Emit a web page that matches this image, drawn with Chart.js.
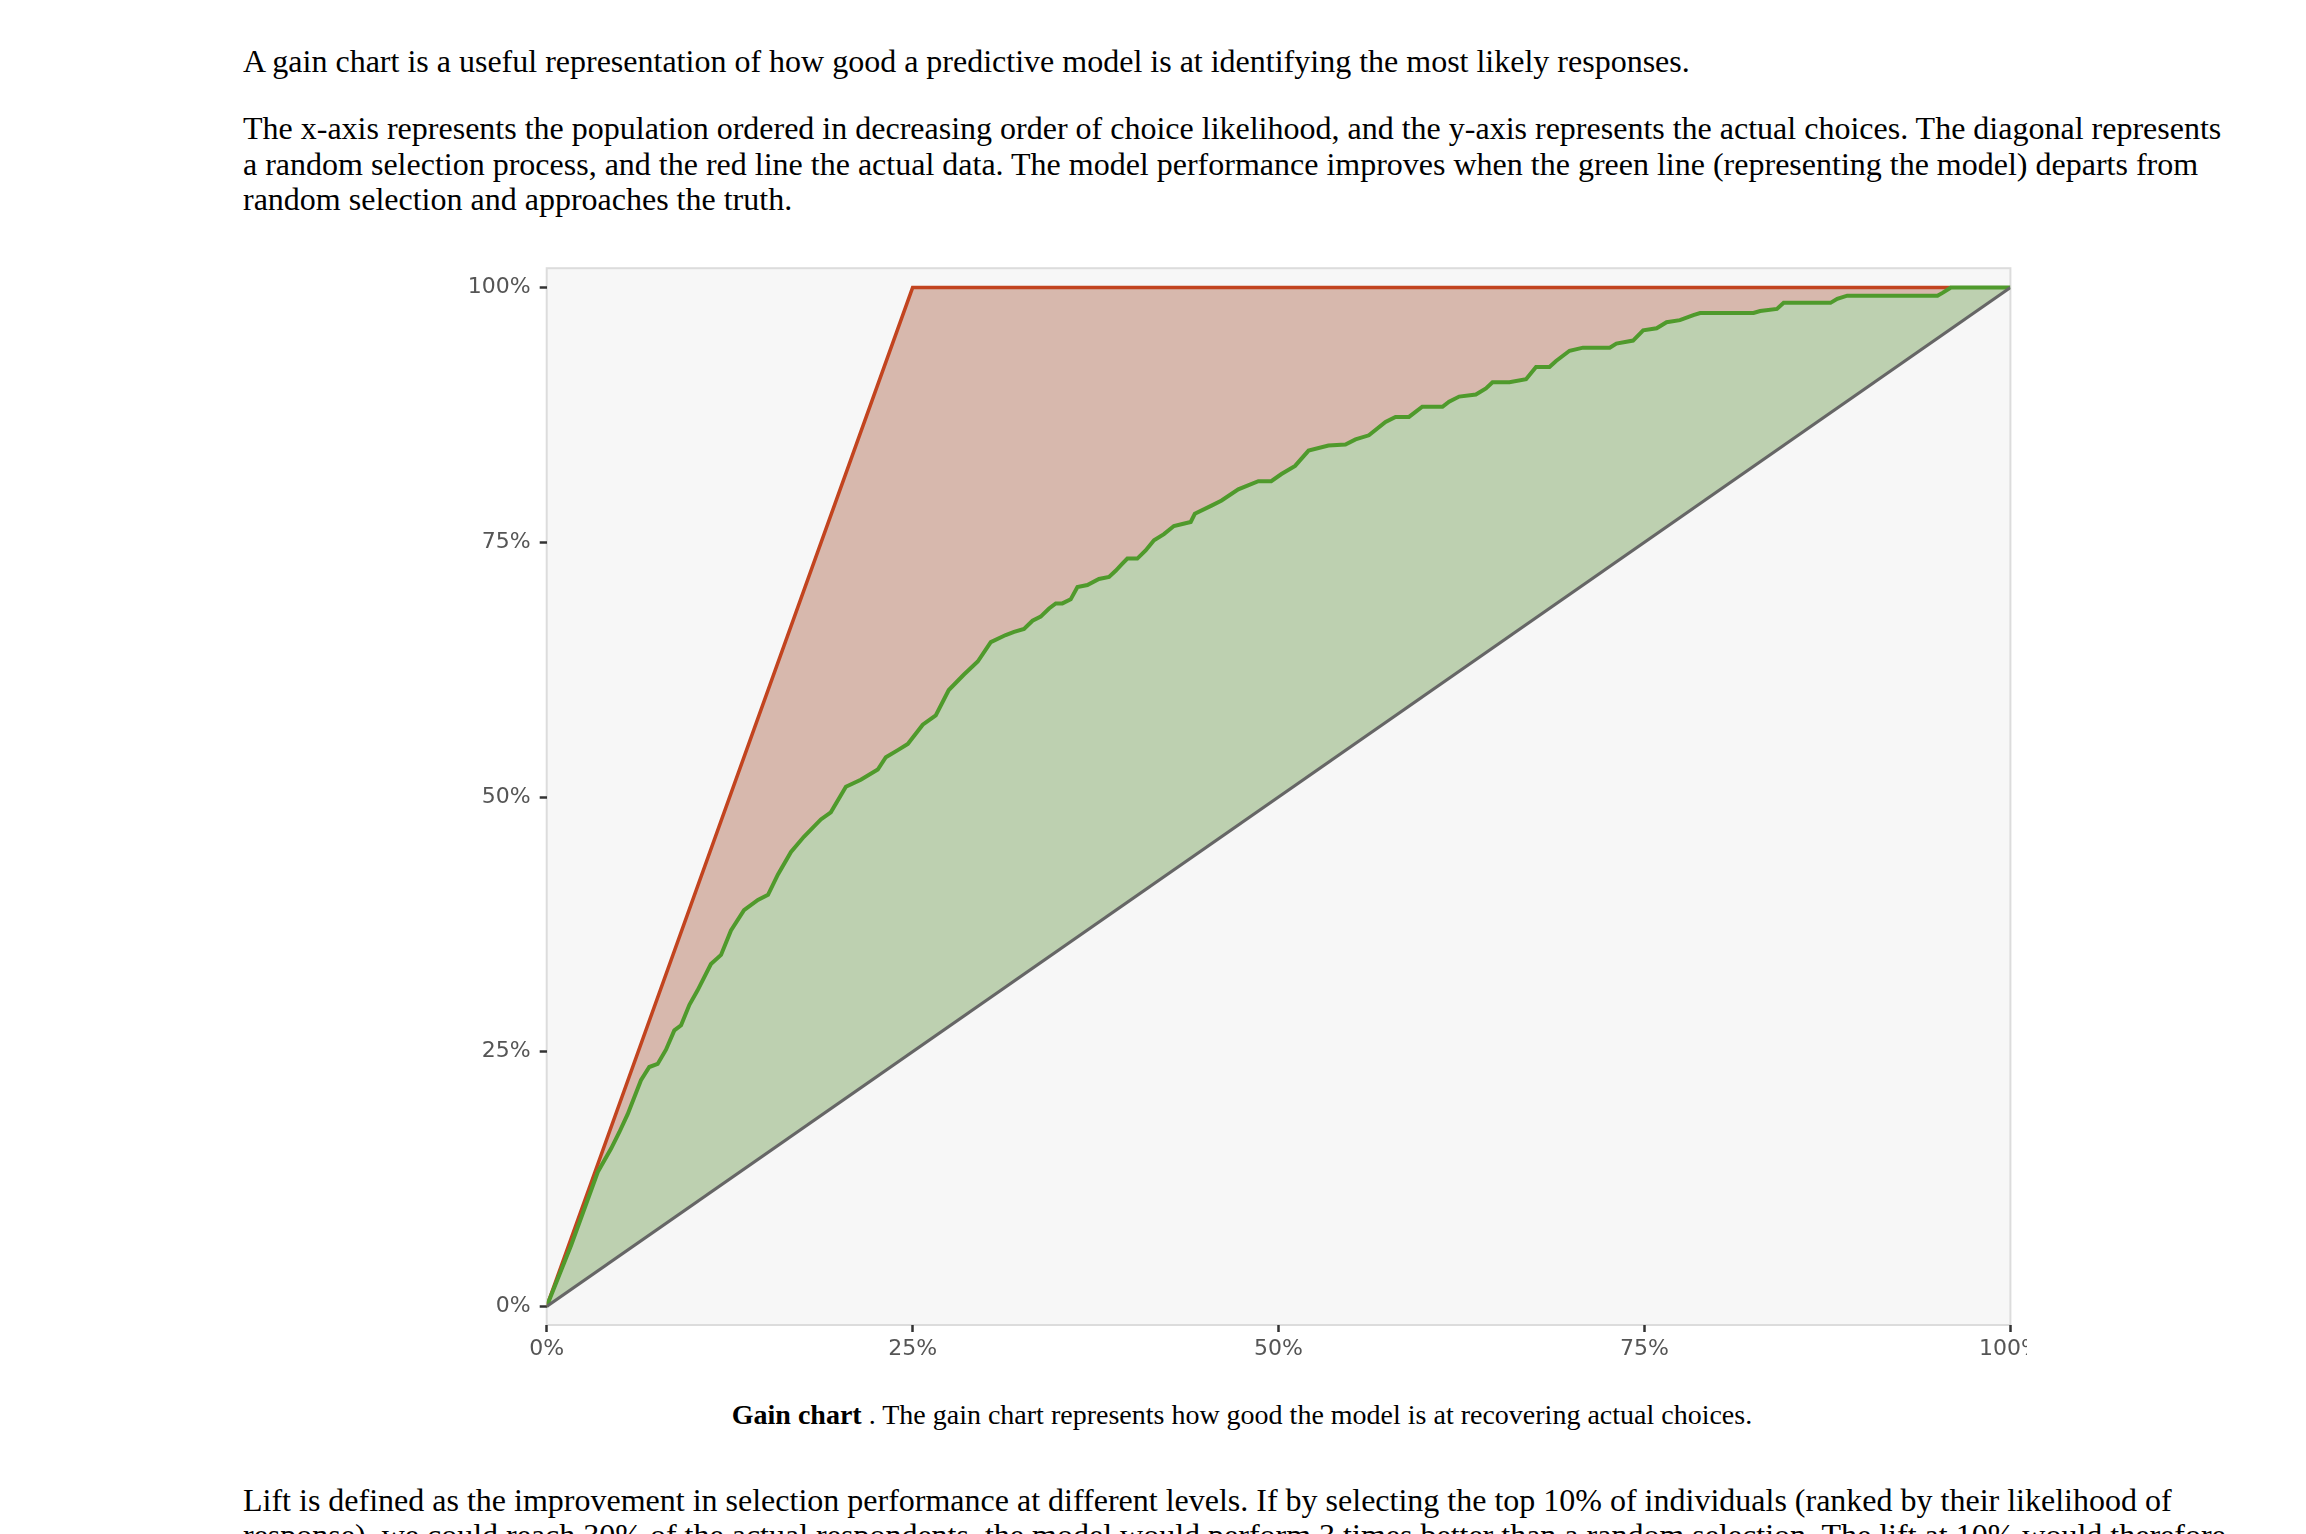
<!DOCTYPE html>
<html lang="en">
<head>
    <meta charset="UTF-8">
    <title>Gain chart</title>
    <script src="https://cdn.jsdelivr.net/npm/chart.js"></script>
    <style>
        html, body {
            margin: 0;
            padding: 0;
            background: #fff;
            overflow: hidden;
        }
        .page {
            margin-left: 243px;
            width: 1990px;
            font-family: "Liberation Serif", "Times New Roman", serif;
            font-size: 32px;
            line-height: 35.3px;
            color: #000;
        }
        .page p {
            margin: 32px 0;
        }
        .page p.first {
            margin-top: 44px;
        }
        .chart-box {
            margin-top: -3px;
            margin-left: 217px;
            width: 1567px;
            height: 1120px;
            overflow: hidden;
            position: relative;
        }
        .page p.caption {
            margin: 33px 0 53px 0;
            padding-left: 8px;
            font-size: 28px;
            line-height: 31px;
            text-align: center;
        }
    </style>
</head>
<body>
<div class="page">
    <p class="first">A gain chart is a useful representation of how good a predictive model is at identifying the most likely responses.</p>
    <p>The x-axis represents the population ordered in decreasing order of choice likelihood, and the y-axis represents the actual choices. The diagonal represents a random selection process, and the red line the actual data. The model performance improves when the green line (representing the model) departs from random selection and approaches the truth.</p>

    <div class="chart-box">
        <canvas id="gain-chart" width="1600" height="1120"></canvas>
    </div>

    <p class="caption"><b>Gain chart</b> . The gain chart represents how good the model is at recovering actual choices.</p>

    <p>Lift is defined as the improvement in selection performance at different levels. If by selecting the top 10% of individuals (ranked by their likelihood of response), we could reach 30% of the actual respondents, the model would perform 3 times better than a random selection. The lift at 10% would therefore be 3.</p>
</div>

<script>
    // population share (x) and share of actual choices (y), in percent
    const modelX = [0, 1.67, 3.49, 4.40, 4.96, 5.54, 6.44, 7.01, 7.58, 8.15, 8.72, 9.18, 9.75, 10.3,
        11.22, 11.91, 12.59, 13.48, 14.43, 15.12, 15.80, 16.69, 17.57, 18.73, 19.41, 20.44, 21.46,
        22.62, 23.17, 23.99, 24.67, 25.69, 26.58, 27.47, 28.49, 29.45, 30.34, 31.36, 31.93, 32.61,
        33.19, 33.75, 34.32, 34.78, 35.23, 35.80, 36.26, 36.94, 37.73, 38.42, 38.87, 39.33, 39.67,
        40.35, 40.92, 41.49, 42.17, 42.85, 43.43, 44.0, 44.28, 45.42, 46.11, 47.25, 48.62, 49.5,
        50.2, 51.13, 52.05, 53.41, 54.57, 55.26, 56.17, 57.31, 57.99, 58.91, 59.82, 61.2, 61.65,
        62.34, 63.48, 64.17, 64.62, 65.77, 66.91, 67.59, 68.51, 68.96, 69.88, 70.80, 72.63, 73.08,
        74.22, 74.91, 75.83, 76.51, 77.42, 78.34, 78.80, 82.45, 82.9, 84.05, 84.51, 87.71, 88.17,
        88.85, 95.02, 95.39, 95.94, 100];
    const modelY = [0, 6.0, 13.2, 15.5, 17.1, 18.9, 22.2, 23.5, 23.8, 25.2, 27.1, 27.6, 29.6, 31.0,
        33.6, 34.5, 36.9, 38.9, 39.9, 40.4, 42.4, 44.6, 46.1, 47.8, 48.5, 51.0, 51.7,
        52.7, 53.9, 54.6, 55.2, 57.1, 58.0, 60.5, 62.0, 63.3, 65.2, 65.9, 66.2, 66.5,
        67.3, 67.7, 68.5, 69.0, 69.0, 69.4, 70.6, 70.8, 71.4, 71.6, 72.2, 72.9, 73.4,
        73.4, 74.2, 75.2, 75.8, 76.6, 76.8, 77.0, 77.8, 78.6, 79.1, 80.2, 81.0, 81.0,
        81.7, 82.5, 84.0, 84.5, 84.6, 85.1, 85.5, 86.8, 87.3, 87.3, 88.3, 88.3, 88.8,
        89.3, 89.5, 90.1, 90.7, 90.7, 91.0, 92.2, 92.2, 92.8, 93.8, 94.1, 94.1, 94.5,
        94.8, 95.8, 96.0, 96.6, 96.8, 97.3, 97.5, 97.5, 97.7, 97.9, 98.5, 98.5, 98.9,
        99.2, 99.2, 99.5, 100, 100];
    const actualX = [0, 25, 95.9];
    const actualY = [0, 100, 100];
    const randomX = [0, 100];
    const randomY = [0, 100];
    const tickValues = [0, 25, 50, 75, 100];

    const toPoints = (xs, ys) => xs.map((x, i) => ({ x: x, y: ys[i] }));

    // grey panel with a thin border behind the plot
    const panel = {
        id: 'panel',
        beforeDraw(chart) {
            const a = chart.chartArea;
            const ctx = chart.ctx;
            ctx.save();
            ctx.fillStyle = '#f7f7f7';
            ctx.fillRect(a.left, a.top, a.right - a.left, a.bottom - a.top);
            ctx.strokeStyle = '#dcdcdc';
            ctx.lineWidth = 2;
            ctx.strokeRect(a.left, a.top, a.right - a.left, a.bottom - a.top);
            ctx.restore();
        }
    };

    const tickFont = { family: 'DejaVu Sans', size: 22 };
    const setTicks = scale => { scale.ticks = tickValues.map(v => ({ value: v })); };

    new Chart(document.getElementById('gain-chart'), {
        type: 'line',
        data: {
            datasets: [
                {
                    label: 'Actual',
                    data: toPoints(actualX, actualY),
                    borderColor: '#c2441f',
                    borderWidth: 3.5,
                    backgroundColor: 'rgb(215,184,173)',
                    fill: 2,
                    pointRadius: 0,
                    tension: 0,
                    order: 3
                },
                {
                    label: 'Model',
                    data: toPoints(modelX, modelY),
                    borderColor: '#4f9a2c',
                    borderWidth: 4,
                    backgroundColor: 'rgb(189,208,176)',
                    fill: 2,
                    pointRadius: 0,
                    tension: 0,
                    order: 2
                },
                {
                    label: 'Random',
                    data: toPoints(randomX, randomY),
                    borderColor: '#666666',
                    borderWidth: 3,
                    fill: false,
                    pointRadius: 0,
                    tension: 0,
                    order: 1
                }
            ]
        },
        options: {
            responsive: false,
            animation: false,
            devicePixelRatio: 1,
            layout: {
                padding: { left: 0, right: 49.6, top: 18, bottom: 0 }
            },
            plugins: {
                legend: { display: false },
                tooltip: { enabled: false }
            },
            scales: {
                x: {
                    type: 'linear',
                    min: 0,
                    max: 100,
                    afterBuildTicks: setTicks,
                    afterFit: scale => { scale.height = 41; },
                    border: { display: false },
                    grid: { drawOnChartArea: false, tickLength: 7, tickWidth: 2.5, tickColor: '#333' },
                    ticks: {
                        font: tickFont,
                        color: '#555',
                        padding: 4,
                        maxRotation: 0,
                        callback: v => v + '%'
                    }
                },
                y: {
                    type: 'linear',
                    min: -1.82,
                    max: 101.9,
                    afterBuildTicks: setTicks,
                    afterFit: scale => { scale.width = 86.7; },
                    border: { display: false },
                    grid: { drawOnChartArea: false, tickLength: 7, tickWidth: 2.5, tickColor: '#333' },
                    ticks: {
                        font: tickFont,
                        color: '#555',
                        padding: 9,
                        callback: v => v + '%'
                    }
                }
            }
        },
        plugins: [panel]
    });
</script>
</body>
</html>
